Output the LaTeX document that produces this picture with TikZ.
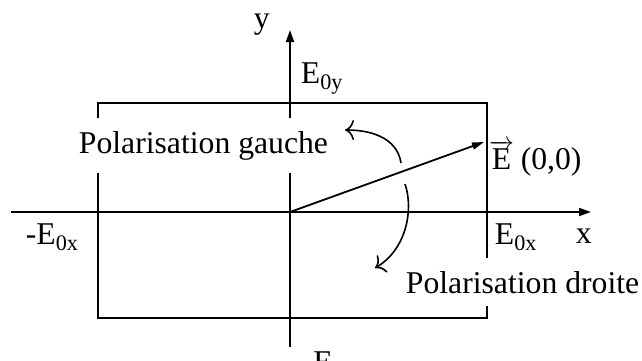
\documentclass[tikz,border=0pt]{standalone}
\usepackage{fontspec}
\setmainfont{Liberation Serif}
\usetikzlibrary{arrows.meta}
\begin{document}
\begin{tikzpicture}[x=1pt,y=-1pt, line width=1.8pt,
  lbl/.style={inner sep=0pt, anchor=base west, font=\fontsize{31.7}{38}\selectfont},
  pol/.style={lbl, fill=white, inner xsep=3pt, inner ysep=13pt},
  axis/.style={-{Triangle[length=12pt,width=8pt]}},
  rot/.style={-{To[length=9pt,width=20pt]}, line width=1.6pt}]
\useasboundingbox (0,0) rectangle (642,360);
\coordinate (O) at (290,212);
\coordinate (xs) at (11,212);
\coordinate (xe) at (591,212);
\coordinate (ys) at (290,347);
\coordinate (ye) at (290,30);
\coordinate (TL) at (98,103);
\coordinate (BR) at (487,318);
\coordinate (Etip) at (484,142);
\coordinate (g1) at (401,163);
\coordinate (g2) at (345,130);
\coordinate (d1) at (405,184);
\coordinate (d2) at (375,268);
\draw (TL) rectangle (BR);
\draw[axis] (xs) -- (xe);
\draw[axis] (ys) -- (ye);
\draw[-{Triangle[length=12pt,width=7pt]}] (O) -- (Etip);
\node[lbl] (ylab) at (253,28) {y};
\node[lbl] (e0y) at (300,83) {E\textsubscript{0y}};
\node[lbl] (me0x) at (25,244) {-E\textsubscript{0x}};
\node[lbl] (e0x) at (494,244) {E\textsubscript{0x}};
\node[lbl] (xlab) at (575,243) {x};
\node[lbl] (me0y) at (302,372) {-E\textsubscript{0y}};
\node[lbl] (evec) at (491,169) {\makebox[0.611em][c]{$\overrightarrow{\hbox{E}}$}\hspace{0.3em}(0,0)};
\node[pol] (gauche) at (75,153) {Polarisation gauche};
\node[pol] (droite) at (402,293) {Polarisation droite};
\draw[rot] (g1) .. controls (398,142) and (378,130) .. (g2);
\draw[rot] (d1) .. controls (414,210) and (406,250) .. (d2);
\end{tikzpicture}
\end{document}
